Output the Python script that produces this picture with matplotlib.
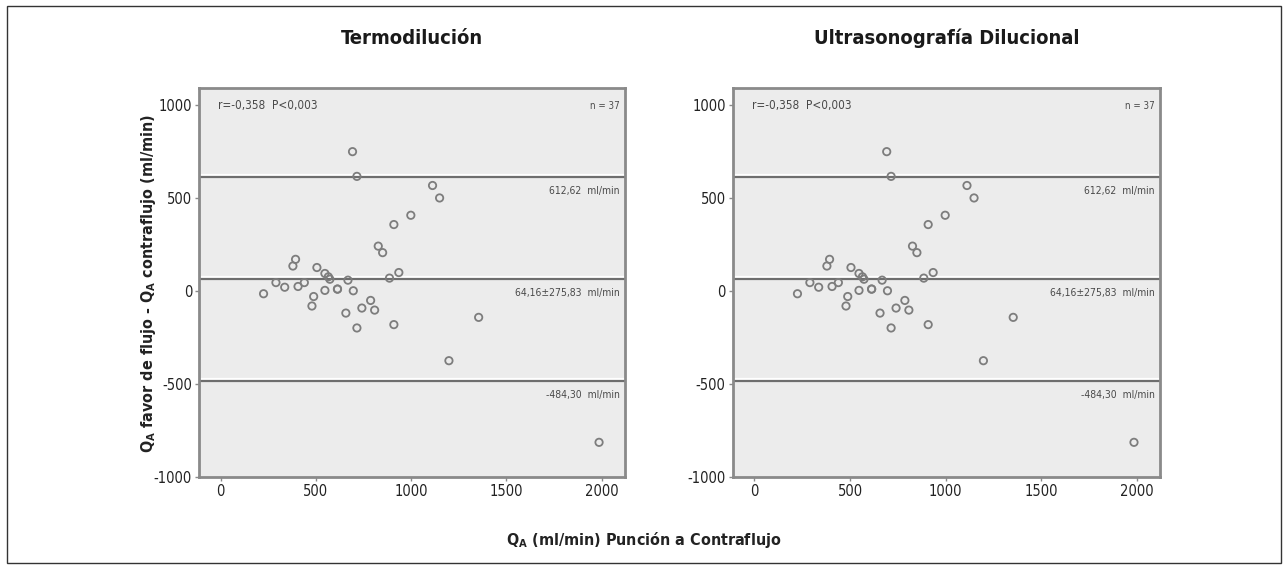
"""
Bland-Altman: Q_A a favor de flujo vs contraflujo (Termodilución / Ultrasonografía Dilucional)
"""

import matplotlib
matplotlib.use("Agg")
import matplotlib.pyplot as plt
import matplotlib.patheffects as pe
from matplotlib.patches import Rectangle

# ── Datos ────────────────────────────────────────────────────
qa_contraflujo = [692, 715, 1112, 1149, 998, 909, 827, 850, 935, 886,
                  393, 379, 505, 290, 336, 406, 439, 225, 547, 565,
                  573, 547, 613, 613, 668, 696, 488, 479, 787, 741,
                  808, 657, 1354, 715, 909, 1198, 1986]
diferencia = [750, 617, 568, 501, 408, 358, 242, 207, 100, 70,
              171, 135, 127, 46, 21, 25, 46, -14, 95, 77,
              64, 4, 11, 11, 59, 2, -29, -80, -50, -91,
              -102, -118, -141, -198, -180, -374, -813]

limite_sup = 612.62
media = 64.16
limite_inf = -484.30

paneles = ["Termodilución", "Ultrasonografía Dilucional"]
texto_r = "r=-0,358  P<0,003"
texto_n = "n = 37"
etiquetas_lineas = ["612,62  ml/min", "64,16±275,83  ml/min", "-484,30  ml/min"]

x_ticks = [0, 500, 1000, 1500, 2000]
y_ticks = [-1000, -500, 0, 500, 1000]

# ── Estilo ───────────────────────────────────────────────────
FONT = ["DejaVu Sans", "Liberation Sans"]
plt.rcParams["font.family"] = FONT
plt.rcParams["font.stretch"] = "condensed"
plt.rcParams["axes.unicode_minus"] = False

fig = plt.figure(figsize=(12.87, 5.68), dpi=100)
fig.patch.set_facecolor("white")

posiciones = [[0.1546, 0.160, 0.331, 0.685],
              [0.5693, 0.160, 0.332, 0.685]]

for titulo, pos in zip(paneles, posiciones):
    ax = fig.add_axes(pos)
    ax.set_facecolor("#ececec")

    ax.scatter(qa_contraflujo, diferencia, s=28, facecolors="none",
               edgecolors="#7d7d7d", linewidths=1.3, zorder=3)

    sombra = [pe.SimpleLineShadow(offset=(0, 1.5), shadow_color="white", alpha=1.0),
              pe.Normal()]
    for val, etq in zip([limite_sup, media, limite_inf], etiquetas_lineas):
        ax.axhline(val, color="#6e6e6e", linewidth=1.6, zorder=2, path_effects=sombra)
        ax.annotate(etq, xy=(1, val), xycoords=("axes fraction", "data"),
                    xytext=(-4, -10), textcoords="offset points",
                    ha="right", va="center", fontsize=7.5, color="#4a4a4a")

    ax.text(0.045, 0.956, texto_r, transform=ax.transAxes, fontsize=8.5,
            color="#4a4a4a", va="center", ha="left")
    ax.text(0.988, 0.953, texto_n, transform=ax.transAxes, fontsize=7,
            color="#4a4a4a", va="center", ha="right")

    ax.set_xlim(-114, 2122)
    ax.set_ylim(-1000, 1092)
    ax.set_xticks(x_ticks)
    ax.set_yticks(y_ticks)
    ax.tick_params(axis="both", direction="out", length=3, width=1,
                   color="#8a8a8a", labelsize=10.5, labelcolor="#222222", pad=2)
    for sp in ax.spines.values():
        sp.set_color("#8a8a8a")
        sp.set_linewidth(2)

    fig.text(pos[0] + pos[2] / 2, 0.933, titulo, ha="center", va="center",
             fontsize=14.5, fontweight="bold", color="#1a1a1a")

fig.text(0.115, 0.50,
         r"Q$_\mathregular{A}$ favor de flujo - Q$_\mathregular{A}$ contraflujo (ml/min)",
         rotation=90, ha="center", va="center", fontsize=11.5,
         fontweight="semibold", color="#222222")
fig.text(0.5, 0.049, r"Q$_\mathregular{A}$ (ml/min) Punción a Contraflujo",
         ha="center", va="center", fontsize=11.5, fontweight="semibold",
         color="#222222")

fig.patches.append(Rectangle((0.0054, 0.0088), 0.99, 0.9806, transform=fig.transFigure,
                             fill=False, edgecolor="#333333", linewidth=1))

fig.savefig("out.png", dpi=100)
